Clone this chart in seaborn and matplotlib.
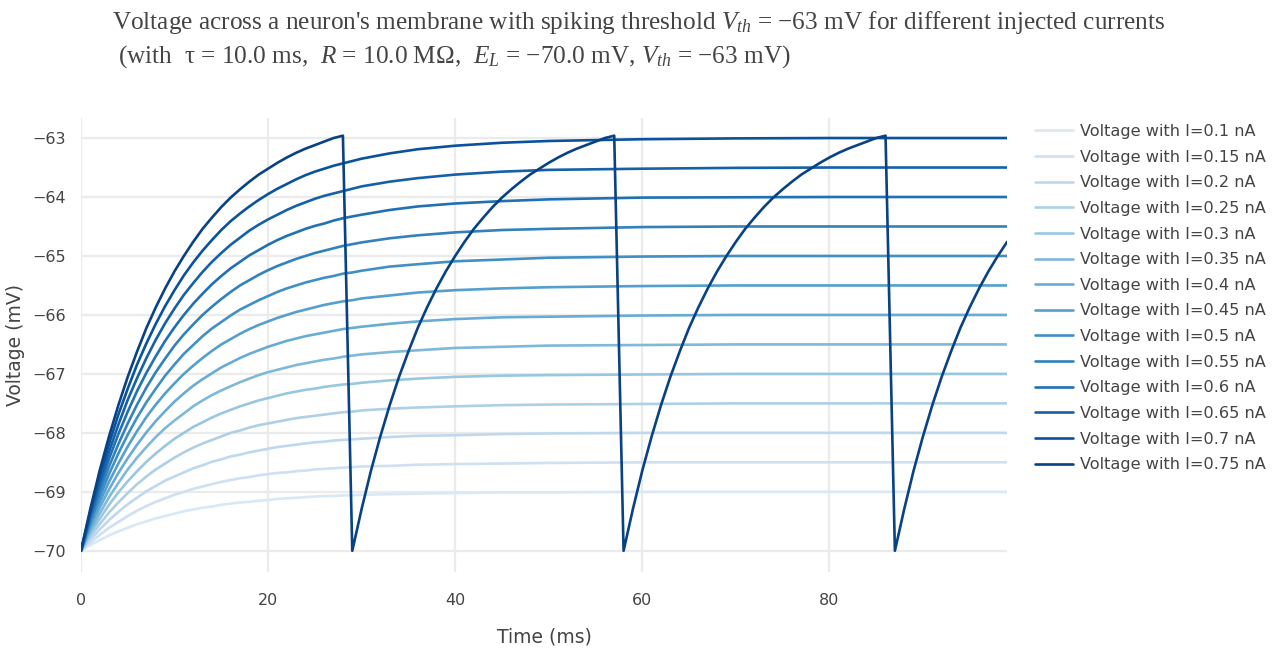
import matplotlib
matplotlib.use("Agg")
import matplotlib.pyplot as plt
import numpy as np
import pandas as pd
import seaborn as sns

# injected currents (nA), one trace each
currents = [0.1, 0.15, 0.2, 0.25, 0.3, 0.35, 0.4, 0.45, 0.5, 0.55, 0.6, 0.65, 0.7, 0.75]

# time samples (ms) read for the non-spiking traces
t_grid = [0, 1, 2, 3, 4, 5, 6, 7, 8, 9, 10, 11, 12, 13, 14, 15, 16, 17, 18, 19, 20,
          21, 22, 23, 24, 25, 26, 27, 28, 29, 30, 33, 36, 40, 45, 50, 60, 70, 80, 99]

v_010 = [-70.00, -69.90, -69.82, -69.74, -69.67, -69.61, -69.55, -69.50, -69.45, -69.41,
         -69.37, -69.33, -69.30, -69.27, -69.25, -69.22, -69.20, -69.18, -69.17, -69.15,
         -69.14, -69.12, -69.11, -69.10, -69.09, -69.08, -69.07, -69.07, -69.06, -69.06,
         -69.05, -69.04, -69.03, -69.02, -69.01, -69.01, -69.00, -69.00, -69.00, -69.00]
v_015 = [-70.00, -69.86, -69.73, -69.61, -69.51, -69.41, -69.32, -69.24, -69.17, -69.11,
         -69.05, -69.00, -68.95, -68.91, -68.87, -68.83, -68.80, -68.77, -68.75, -68.72,
         -68.70, -68.68, -68.67, -68.65, -68.64, -68.62, -68.61, -68.60, -68.59, -68.58,
         -68.57, -68.56, -68.54, -68.53, -68.52, -68.51, -68.50, -68.50, -68.50, -68.50]
v_020 = [-70.00, -69.81, -69.64, -69.48, -69.34, -69.21, -69.10, -68.99, -68.90, -68.81,
         -68.74, -68.67, -68.60, -68.55, -68.49, -68.45, -68.40, -68.37, -68.33, -68.30,
         -68.27, -68.24, -68.22, -68.20, -68.18, -68.16, -68.15, -68.13, -68.12, -68.11,
         -68.10, -68.07, -68.05, -68.04, -68.02, -68.01, -68.00, -68.00, -68.00, -68.00]
v_025 = [-70.00, -69.76, -69.55, -69.35, -69.18, -69.02, -68.87, -68.74, -68.62, -68.52,
         -68.42, -68.33, -68.25, -68.18, -68.12, -68.06, -68.00, -67.96, -67.91, -67.87,
         -67.84, -67.81, -67.78, -67.75, -67.73, -67.71, -67.69, -67.67, -67.65, -67.64,
         -67.62, -67.59, -67.57, -67.55, -67.53, -67.52, -67.51, -67.50, -67.50, -67.50]
v_030 = [-70.00, -69.71, -69.46, -69.22, -69.01, -68.82, -68.65, -68.49, -68.35, -68.22,
         -68.10, -68.00, -67.90, -67.82, -67.74, -67.67, -67.61, -67.55, -67.50, -67.45,
         -67.41, -67.37, -67.33, -67.30, -67.27, -67.25, -67.22, -67.20, -67.18, -67.17,
         -67.15, -67.11, -67.08, -67.05, -67.03, -67.02, -67.01, -67.00, -67.00, -67.00]
v_035 = [-70.00, -69.67, -69.37, -69.09, -68.85, -68.62, -68.42, -68.24, -68.07, -67.92,
         -67.79, -67.67, -67.55, -67.45, -67.36, -67.28, -67.21, -67.14, -67.08, -67.02,
         -66.97, -66.93, -66.89, -66.85, -66.82, -66.79, -66.76, -66.74, -66.71, -66.69,
         -66.67, -66.63, -66.60, -66.56, -66.54, -66.52, -66.51, -66.50, -66.50, -66.50]
v_040 = [-70.00, -69.62, -69.27, -68.96, -68.68, -68.43, -68.20, -67.99, -67.80, -67.63,
         -67.47, -67.33, -67.20, -67.09, -66.99, -66.89, -66.81, -66.73, -66.66, -66.60,
         -66.54, -66.49, -66.44, -66.40, -66.36, -66.33, -66.30, -66.27, -66.24, -66.22,
         -66.20, -66.15, -66.11, -66.07, -66.04, -66.03, -66.01, -66.00, -66.00, -66.00]
v_045 = [-70.00, -69.57, -69.18, -68.83, -68.52, -68.23, -67.97, -67.73, -67.52, -67.33,
         -67.16, -67.00, -66.86, -66.73, -66.61, -66.50, -66.41, -66.32, -66.24, -66.17,
         -66.11, -66.05, -66.00, -65.95, -65.91, -65.87, -65.83, -65.80, -65.77, -65.75,
         -65.72, -65.67, -65.62, -65.58, -65.55, -65.53, -65.51, -65.50, -65.50, -65.50]
v_050 = [-70.00, -69.52, -69.09, -68.70, -68.35, -68.03, -67.74, -67.48, -67.25, -67.03,
         -66.84, -66.66, -66.51, -66.36, -66.23, -66.12, -66.01, -65.91, -65.83, -65.75,
         -65.68, -65.61, -65.55, -65.50, -65.45, -65.41, -65.37, -65.34, -65.30, -65.28,
         -65.25, -65.18, -65.14, -65.09, -65.06, -65.03, -65.01, -65.00, -65.00, -65.00]
v_055 = [-70.00, -69.48, -69.00, -68.57, -68.19, -67.84, -67.52, -67.23, -66.97, -66.74,
         -66.52, -66.33, -66.16, -66.00, -65.86, -65.73, -65.61, -65.50, -65.41, -65.32,
         -65.24, -65.17, -65.11, -65.05, -65.00, -64.95, -64.91, -64.87, -64.83, -64.80,
         -64.77, -64.70, -64.65, -64.60, -64.56, -64.54, -64.51, -64.50, -64.50, -64.50]
v_060 = [-70.00, -69.43, -68.91, -68.44, -68.02, -67.64, -67.29, -66.98, -66.70, -66.44,
         -66.21, -66.00, -65.81, -65.64, -65.48, -65.34, -65.21, -65.10, -64.99, -64.90,
         -64.81, -64.73, -64.66, -64.60, -64.54, -64.49, -64.45, -64.40, -64.36, -64.33,
         -64.30, -64.22, -64.16, -64.11, -64.07, -64.04, -64.01, -64.005, -64.00, -64.00]
v_065 = [-70.00, -69.38, -68.82, -68.32, -67.86, -67.44, -67.07, -66.73, -66.42, -66.14,
         -65.89, -65.66, -65.46, -65.27, -65.10, -64.95, -64.81, -64.69, -64.57, -64.47,
         -64.38, -64.30, -64.22, -64.15, -64.09, -64.03, -63.98, -63.94, -63.90, -63.86,
         -63.82, -63.74, -63.68, -63.62, -63.57, -63.54, -63.52, -63.506, -63.50, -63.50]
v_070 = [-70.00, -69.33, -68.73, -68.19, -67.69, -67.25, -66.84, -66.48, -66.15, -65.85,
         -65.58, -65.33, -65.11, -64.91, -64.73, -64.56, -64.41, -64.28, -64.16, -64.05,
         -63.95, -63.86, -63.78, -63.70, -63.63, -63.57, -63.52, -63.47, -63.43, -63.39,
         -63.35, -63.26, -63.19, -63.13, -63.08, -63.05, -63.02, -63.006, -63.00, -63.00]

# spiking trace (I=0.75 nA): one rise from reset to the spike, sampled every 1 ms
spike_cycle = [-70.00, -69.29, -68.64, -68.06, -67.53, -67.05, -66.62, -66.22, -65.87, -65.55,
               -65.26, -65.00, -64.76, -64.54, -64.35, -64.17, -64.01, -63.87, -63.74, -63.62,
               -63.52, -63.42, -63.33, -63.25, -63.18, -63.12, -63.06, -63.00, -62.96]
t_spike = list(range(100))
v_075 = spike_cycle * 3 + spike_cycle[:13]

x_ticks = [0, 20, 40, 60, 80]
y_ticks = [-70, -69, -68, -67, -66, -65, -64, -63]


def main():
    sns.set_style("white")
    plt.rcParams["font.family"] = ["DejaVu Sans"]
    plt.rcParams["mathtext.fontset"] = "custom"
    plt.rcParams["mathtext.rm"] = "Liberation Serif"
    plt.rcParams["mathtext.it"] = "Liberation Serif:italic"

    text_color = "#444444"
    fig = plt.figure(figsize=(12.83, 6.49), dpi=100)
    ax = fig.add_axes([0.0631, 0.1186, 0.7219, 0.6996])

    traces = [v_010, v_015, v_020, v_025, v_030, v_035, v_040,
              v_045, v_050, v_055, v_060, v_065, v_070]
    palette = plt.get_cmap("Blues")(np.linspace(0.15, 0.93, len(currents)))

    frames = []
    for cur, vals in zip(currents[:-1], traces):
        frames.append(pd.DataFrame({"time": t_grid, "voltage": vals, "current": cur}))
    frames.append(pd.DataFrame({"time": t_spike, "voltage": v_075, "current": currents[-1]}))
    df = pd.concat(frames, ignore_index=True)

    for idx, cur in enumerate(currents):
        sns.lineplot(
            data=df[df.current == cur], x="time", y="voltage",
            ax=ax, color=palette[idx], linewidth=1.9,
            estimator=None, sort=False,
            label=f"Voltage with I={cur} nA",
        )

    ax.set_xlim(0, 99)
    ax.set_ylim(-70.36, -62.66)
    ax.set_xticks(x_ticks)
    ax.set_yticks(y_ticks)
    ax.set_yticklabels([f"\u2212{abs(v)}" for v in y_ticks])
    ax.grid(True, color="#ebebeb", linewidth=1.6)
    ax.set_axisbelow(True)
    for side in ["top", "right", "bottom", "left"]:
        ax.spines[side].set_visible(False)
    ax.spines["bottom"].set_position(("outward", 5))
    ax.spines["left"].set_position(("outward", 3))
    ax.tick_params(axis="both", direction="out", length=5, width=1,
                   color=text_color, labelcolor=text_color, labelsize=11.5)
    ax.tick_params(axis="x", pad=5)
    ax.tick_params(axis="y", pad=3)
    ax.set_xlabel("Time (ms)", fontsize=13.5, color=text_color, labelpad=14)
    ax.set_ylabel("Voltage (mV)", fontsize=13.5, color=text_color, labelpad=5)

    ax.legend(
        loc="upper left", bbox_to_anchor=(1035 / 1283, 1 - 124 / 649),
        bbox_transform=fig.transFigure, frameon=False,
        fontsize=11.6, labelcolor=text_color,
        handlelength=2.36, handletextpad=0.43, labelspacing=0.66,
        borderaxespad=0, borderpad=0,
    )

    title_kw = dict(fontsize=18.2, color=text_color, family="Liberation Serif",
                    ha="left", va="center")
    fig.text(112 / 1283, 1 - 22 / 649,
             "Voltage across a neuron's membrane with spiking threshold "
             "$V_{th}$ = \u221263 mV for different injected currents",
             **title_kw)
    fig.text(112 / 1283, 1 - 57 / 649,
             " (with  \u03c4 = 10.0 ms,  $R$ = 10.0 M\u03a9,  $E_L$ = \u221270.0 mV, "
             "$V_{th}$ = \u221263 mV)",
             **title_kw)

    fig.savefig("out.png", dpi=100)


if __name__ == "__main__":
    main()
